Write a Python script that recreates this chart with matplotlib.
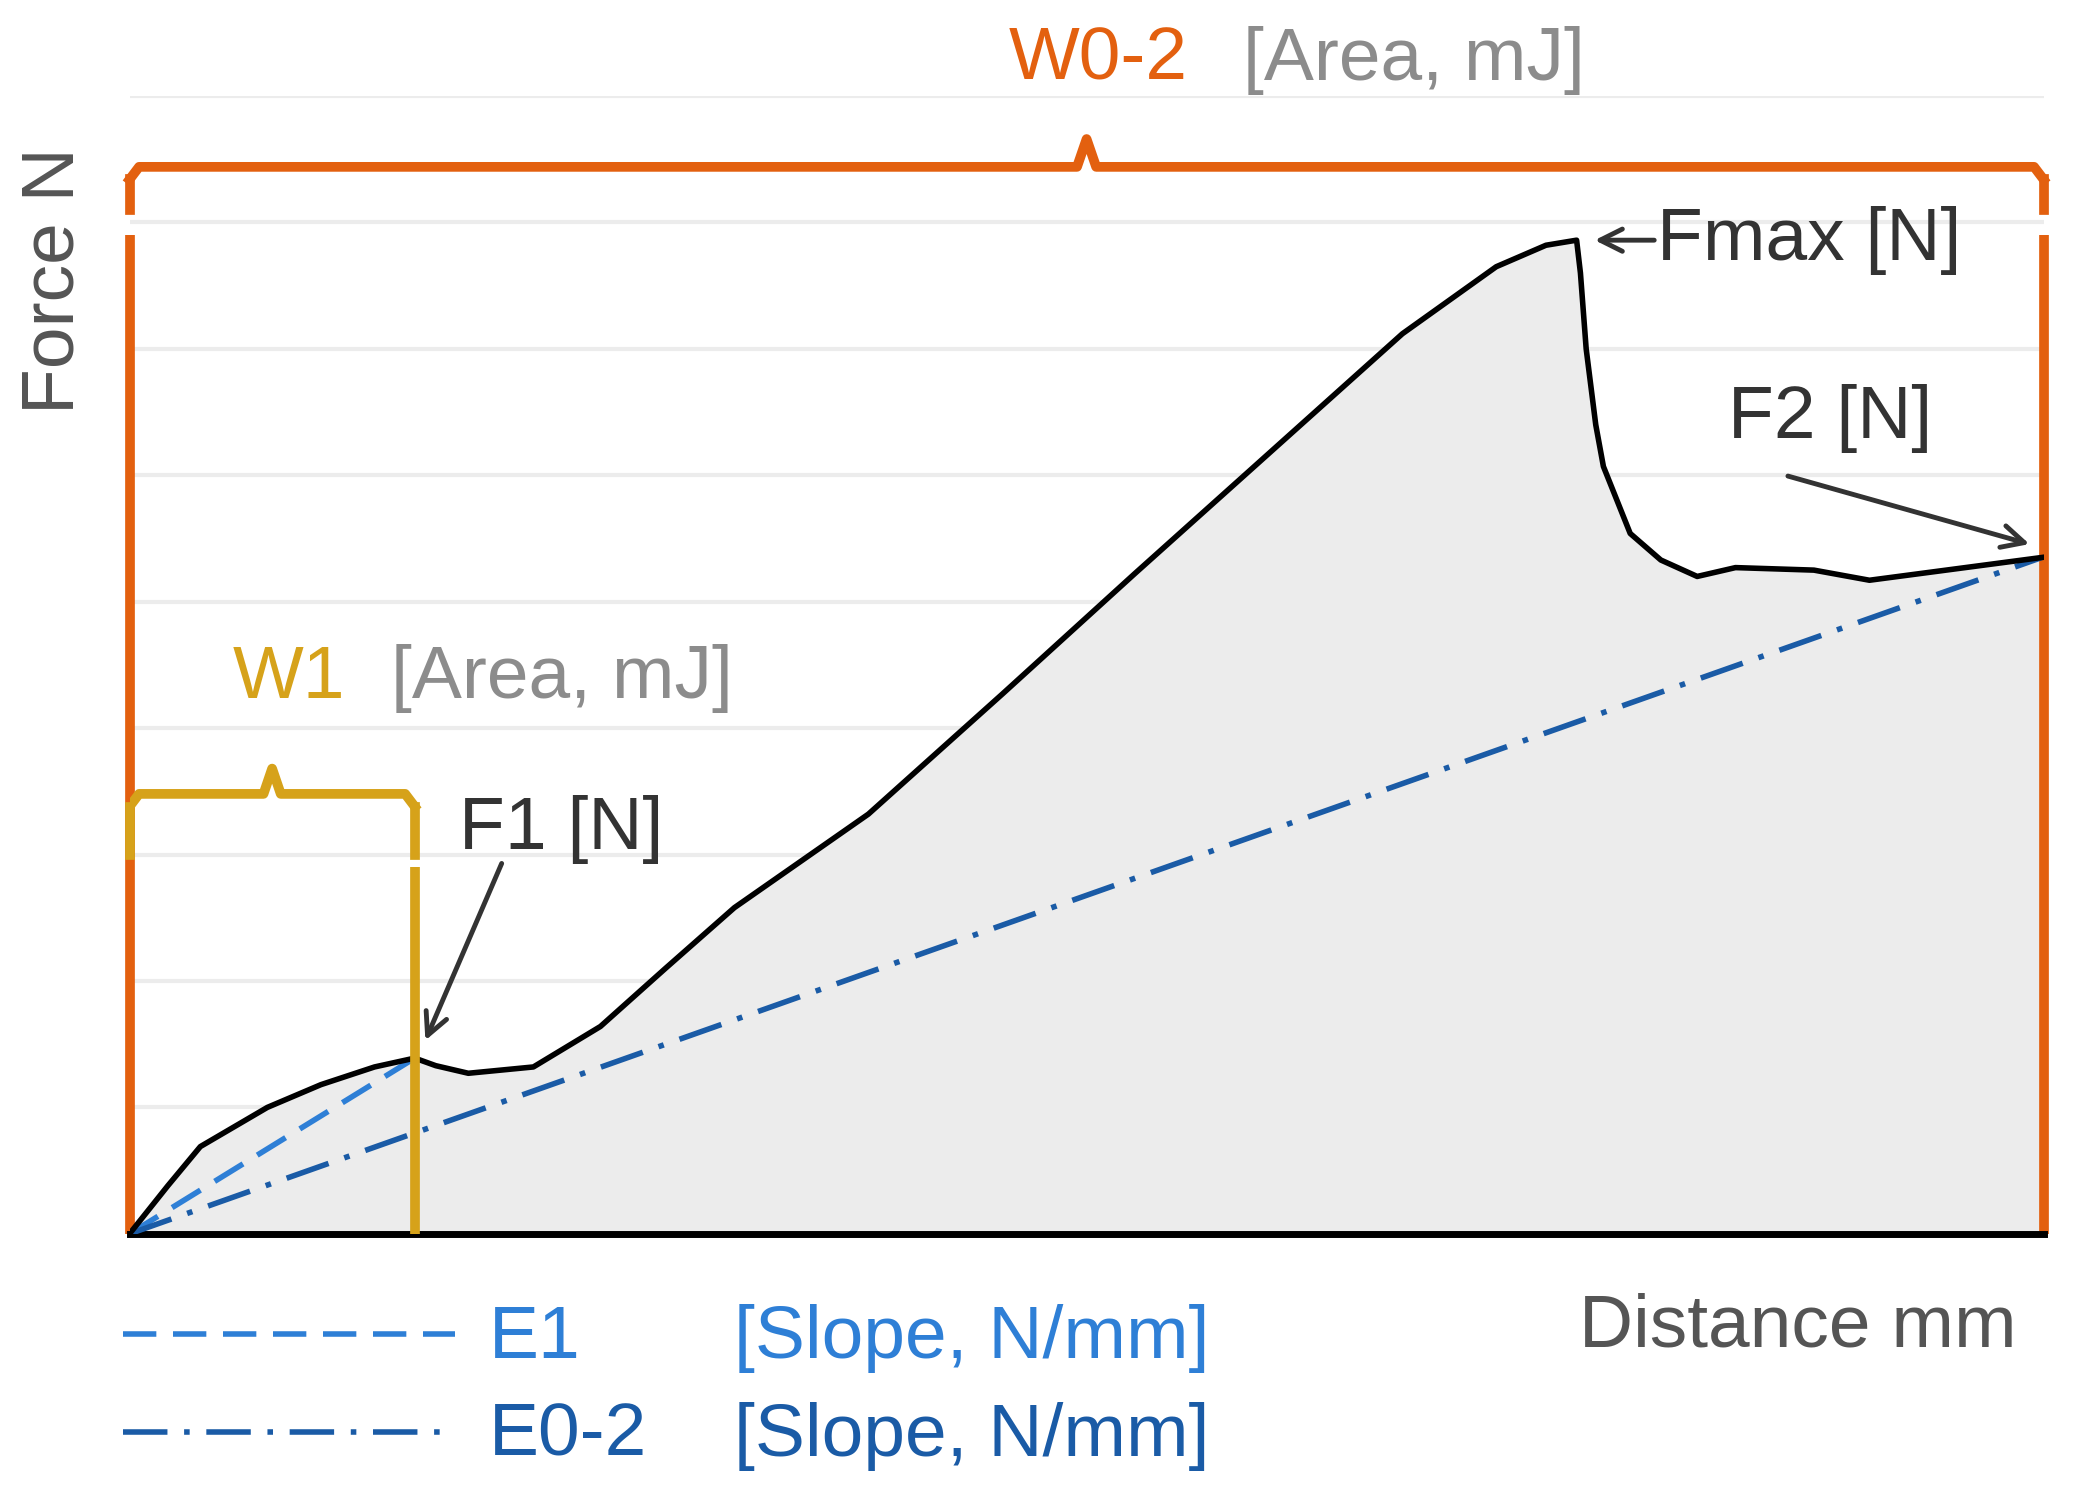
import numpy as np
import matplotlib.pyplot as plt
from matplotlib.lines import Line2D

plt.rcParams['font.family'] = ['Liberation Sans', 'DejaVu Sans']

# data
dist = [0, 0.2, 0.37, 0.72, 1.0, 1.28, 1.49, 1.6, 1.77, 2.11, 2.46, 2.8, 3.16, 3.86, 4.56, 5.25, 5.95, 6.65, 7.14, 7.4, 7.56, 7.58, 7.61, 7.66, 7.70, 7.84, 8.0, 8.19, 8.39, 8.8, 9.09, 9.44, 9.99]
force = [0, 0.38, 0.69, 1.0, 1.18, 1.32, 1.39, 1.33, 1.27, 1.32, 1.64, 2.1, 2.58, 3.32, 4.27, 5.22, 6.17, 7.12, 7.65, 7.82, 7.86, 7.6, 7.0, 6.4, 6.07, 5.54, 5.33, 5.20, 5.27, 5.25, 5.17, 5.24, 5.35]
f1 = (1.49, 1.39)
fmax = (7.56, 7.86)
f2 = (9.99, 5.35)

ORANGE = '#E3600F'
GOLD = '#D6A21A'
BLUE1 = '#2E7FD6'
BLUE2 = '#1A5BA6'
GRAY = '#8C8C8C'
DARK = '#333333'
FS = 54

fig = plt.figure(figsize=(20.79, 15.01), dpi=100)
ax = fig.add_axes([0.0623, 0.178, 0.9207, 0.758])
ax.set_xlim(0, 10)
ax.set_ylim(0, 9)
for s in ['top', 'right', 'left']:
    ax.spines[s].set_visible(False)
ax.spines['bottom'].set_linewidth(5)
ax.set_xticks([]); ax.set_yticks([])
for y in range(1, 10):
    ax.axhline(y, color='#ececec', lw=3, zorder=0)

ax.fill_between(dist, force, color='#ececec', zorder=1)
ax.plot(dist, force, color='black', lw=4, zorder=4)
ax.plot([0, f1[0]], [0, f1[1]], ls=(0, (6, 3)), color=BLUE1, lw=4, zorder=3)
ax.plot([0, f2[0]], [0, f2[1]], ls=(0, (8, 3, 1, 3)), color=BLUE2, lw=4, zorder=3)

OW = 7
top = 8.44
ax.plot([0, 0], [0, 7.9], color=ORANGE, lw=OW, clip_on=False, solid_capstyle='butt')
ax.plot([0, 0], [8.1, top - 0.1], color=ORANGE, lw=OW, clip_on=False)
ax.plot([10, 10], [0, 7.9], color=ORANGE, lw=OW, clip_on=False, solid_capstyle='butt')
ax.plot([10, 10], [8.1, top - 0.1], color=ORANGE, lw=OW, clip_on=False)
ax.plot([0, 0.05, 4.95, 5.0, 5.05, 9.95, 10], [top - 0.1, top, top, top + 0.22, top, top, top - 0.1],
        color=ORANGE, lw=OW, clip_on=False)
gt = 3.48
ax.plot([0, 0], [3.0, gt - 0.1], color=GOLD, lw=OW, clip_on=False)
ax.plot([f1[0], f1[0]], [0, 2.9], color=GOLD, lw=OW, zorder=5, solid_capstyle='butt')
ax.plot([f1[0], f1[0]], [3.0, gt - 0.1], color=GOLD, lw=OW, zorder=5)
ax.plot([0, 0.05, 0.7, 0.745, 0.79, 1.44, f1[0]], [gt - 0.1, gt, gt, gt + 0.2, gt, gt, gt - 0.1],
        color=GOLD, lw=OW, zorder=5)

fig.text(0.485, 0.96, 'W0-2', color=ORANGE, fontsize=FS, va='center')
fig.text(0.598, 0.96, '[Area, mJ]', color=GRAY, fontsize=FS, va='center')
fig.text(0.112, 0.548, 'W1', color=GOLD, fontsize=FS, va='center')
fig.text(0.188, 0.548, '[Area, mJ]', color=GRAY, fontsize=FS, va='center')

ap = dict(arrowstyle='->', color=DARK, lw=3.5, mutation_scale=40)
ax.annotate('', xy=(fmax[0] + 0.08, fmax[1]), xytext=(7.98, 7.86), arrowprops=ap)
ax.text(7.98, 7.86, 'Fmax [N]', fontsize=FS, color=DARK, va='center')
ax.annotate('', xy=(f1[0] + 0.05, f1[1] + 0.12), xytext=(1.95, 2.95), arrowprops=ap)
ax.text(1.72, 3.2, 'F1 [N]', fontsize=FS, color=DARK, va='center')
ax.annotate('', xy=(f2[0] - 0.05, f2[1] + 0.1), xytext=(8.65, 6.0), arrowprops=ap)
ax.text(8.35, 6.45, 'F2 [N]', fontsize=FS, color=DARK, va='center')

fig.text(0.026, 0.813, 'Force N', rotation=90, fontsize=FS, color='#555555', ha='center', va='center')
fig.text(0.97, 0.116, 'Distance mm', fontsize=FS, color='#555555', ha='right', va='center')

fig.add_artist(Line2D([0.059, 0.219], [0.111, 0.111], color=BLUE1, lw=4, ls=(0, (6, 3))))
fig.add_artist(Line2D([0.059, 0.219], [0.046, 0.046], color=BLUE2, lw=4, ls=(0, (8, 3, 1, 3))))
fig.text(0.235, 0.108, 'E1', fontsize=FS, color=BLUE1, va='center')
fig.text(0.353, 0.108, '[Slope, N/mm]', fontsize=FS, color=BLUE1, va='center')
fig.text(0.235, 0.043, 'E0-2', fontsize=FS, color=BLUE2, va='center')
fig.text(0.353, 0.043, '[Slope, N/mm]', fontsize=FS, color=BLUE2, va='center')

fig.savefig('out.png', dpi=100)
